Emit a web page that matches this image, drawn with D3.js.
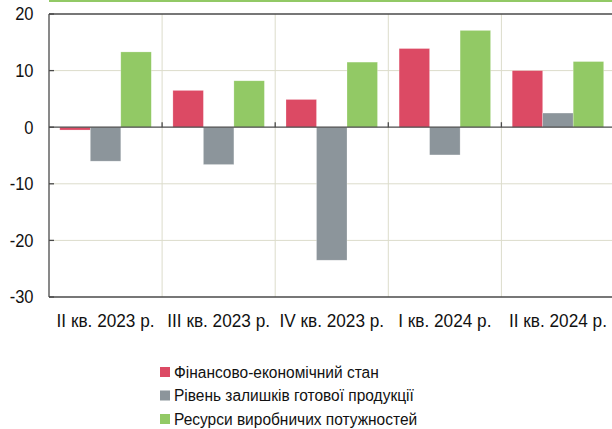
<!DOCTYPE html>
<html>
<head>
<meta charset="utf-8">
<script src="https://cdn.jsdelivr.net/npm/d3@7"></script>
<style>
  body { margin: 0; background: #fff; }
  svg { display: block; font-family: "Liberation Sans", Arial, sans-serif; }
</style>
</head>
<body>
<svg id="chart" width="612" height="429"></svg>
<script>
// data
const categories = ["II кв. 2023 р.", "III кв. 2023 р.", "IV кв. 2023 р.", "I кв. 2024 р.", "II кв. 2024 р."];
const seriesNames = ["Фінансово-економічний стан", "Рівень залишків готової продукції", "Ресурси виробничих потужностей"];
const finance = [-0.5, 6.5, 4.9, 13.9, 10.0];
const stocks = [-6.0, -6.6, -23.5, -4.9, 2.5];
const capacity = [13.3, 8.2, 11.5, 17.1, 11.6];
const yTicks = [20, 10, 0, -10, -20, -30];
const colors = ["#dc4a64", "#8c959b", "#92c965"];

const svg = d3.select("#chart");
const plotLeft = 49, plotTop = 14, plotBottom = 297;
const catStep = 113.1;
const stretch = 1.1; // reference text is slightly taller than wide

const x = d3.scaleBand().domain(categories).range([plotLeft, plotLeft + catStep * categories.length]);
const xs = d3.scaleBand().domain(seriesNames).range([0, x.bandwidth()]).paddingInner(0).paddingOuter(0.354);
const y = d3.scaleLinear().domain([-30, 20]).range([plotBottom, plotTop]);

const values = [finance, stocks, capacity];
const rows = [];
categories.forEach((c, i) => {
  seriesNames.forEach((s, j) => rows.push({ cat: c, series: s, value: values[j][i], color: colors[j] }));
});

// green line at very top (cut-off header)
svg.append("line")
  .attr("x1", plotLeft).attr("x2", 612).attr("y1", 1).attr("y2", 1)
  .attr("stroke", "#92c965").attr("stroke-width", 2);

// light grid
const grid = svg.append("g").attr("stroke", "#dcdccb").attr("stroke-width", 1);
[10, -10, -20].forEach(v => {
  grid.append("line").attr("x1", plotLeft).attr("x2", 612).attr("y1", y(v)).attr("y2", y(v));
});
categories.slice(1).forEach(c => {
  grid.append("line").attr("x1", x(c)).attr("x2", x(c)).attr("y1", plotTop).attr("y2", plotBottom);
});

// bars
svg.append("g")
  .selectAll("rect")
  .data(rows)
  .join("rect")
  .attr("x", d => x(d.cat) + xs(d.series))
  .attr("width", xs.bandwidth())
  .attr("y", d => y(Math.max(0, d.value)))
  .attr("height", d => Math.abs(y(d.value) - y(0)))
  .attr("fill", d => d.color)
  .attr("stroke", "#ffffff")
  .attr("stroke-opacity", 0.4)
  .attr("stroke-width", 0.6);

// dark axis lines
const axes = svg.append("g").attr("stroke", "#4a4a4a").attr("stroke-width", 1.3);
[20, 0, -30].forEach(v => {
  axes.append("line").attr("x1", plotLeft).attr("x2", 612).attr("y1", y(v)).attr("y2", y(v));
});
axes.append("line").attr("x1", plotLeft).attr("x2", plotLeft).attr("y1", plotTop).attr("y2", plotBottom);
// ticks on left axis
yTicks.forEach(v => {
  axes.append("line").attr("x1", plotLeft).attr("x2", plotLeft + 5).attr("y1", y(v)).attr("y2", y(v));
});
// ticks on the zero line between categories
categories.slice(1).forEach(c => {
  axes.append("line").attr("x1", x(c)).attr("x2", x(c)).attr("y1", y(0)).attr("y2", y(0) - 5);
});

// y labels
svg.append("g")
  .selectAll("text")
  .data(yTicks)
  .join("text")
  .attr("transform", d => `translate(33.5,${y(d)}) scale(1,${stretch})`)
  .attr("dy", "0.35em")
  .attr("text-anchor", "end")
  .attr("font-size", 16.5)
  .attr("fill", "#111")
  .text(d => d);

// x labels
svg.append("g")
  .selectAll("text")
  .data(categories)
  .join("text")
  .attr("transform", d => `translate(${x(d) + x.bandwidth() / 2},320) scale(1,${stretch})`)
  .attr("dy", "0.35em")
  .attr("text-anchor", "middle")
  .attr("font-size", 17.2)
  .attr("fill", "#111")
  .text(d => d);

// legend
const legend = svg.append("g")
  .selectAll("g")
  .data(seriesNames)
  .join("g")
  .attr("transform", (d, i) => `translate(160, ${372 + i * 23.5})`);
legend.append("rect")
  .attr("x", 0).attr("y", -5).attr("width", 10).attr("height", 10)
  .attr("fill", (d, i) => colors[i]);
legend.append("text")
  .attr("transform", `translate(14,0) scale(1,${stretch})`)
  .attr("dy", "0.35em")
  .attr("font-size", 15.5)
  .attr("fill", "#111")
  .text(d => d);
</script>
</body>
</html>
